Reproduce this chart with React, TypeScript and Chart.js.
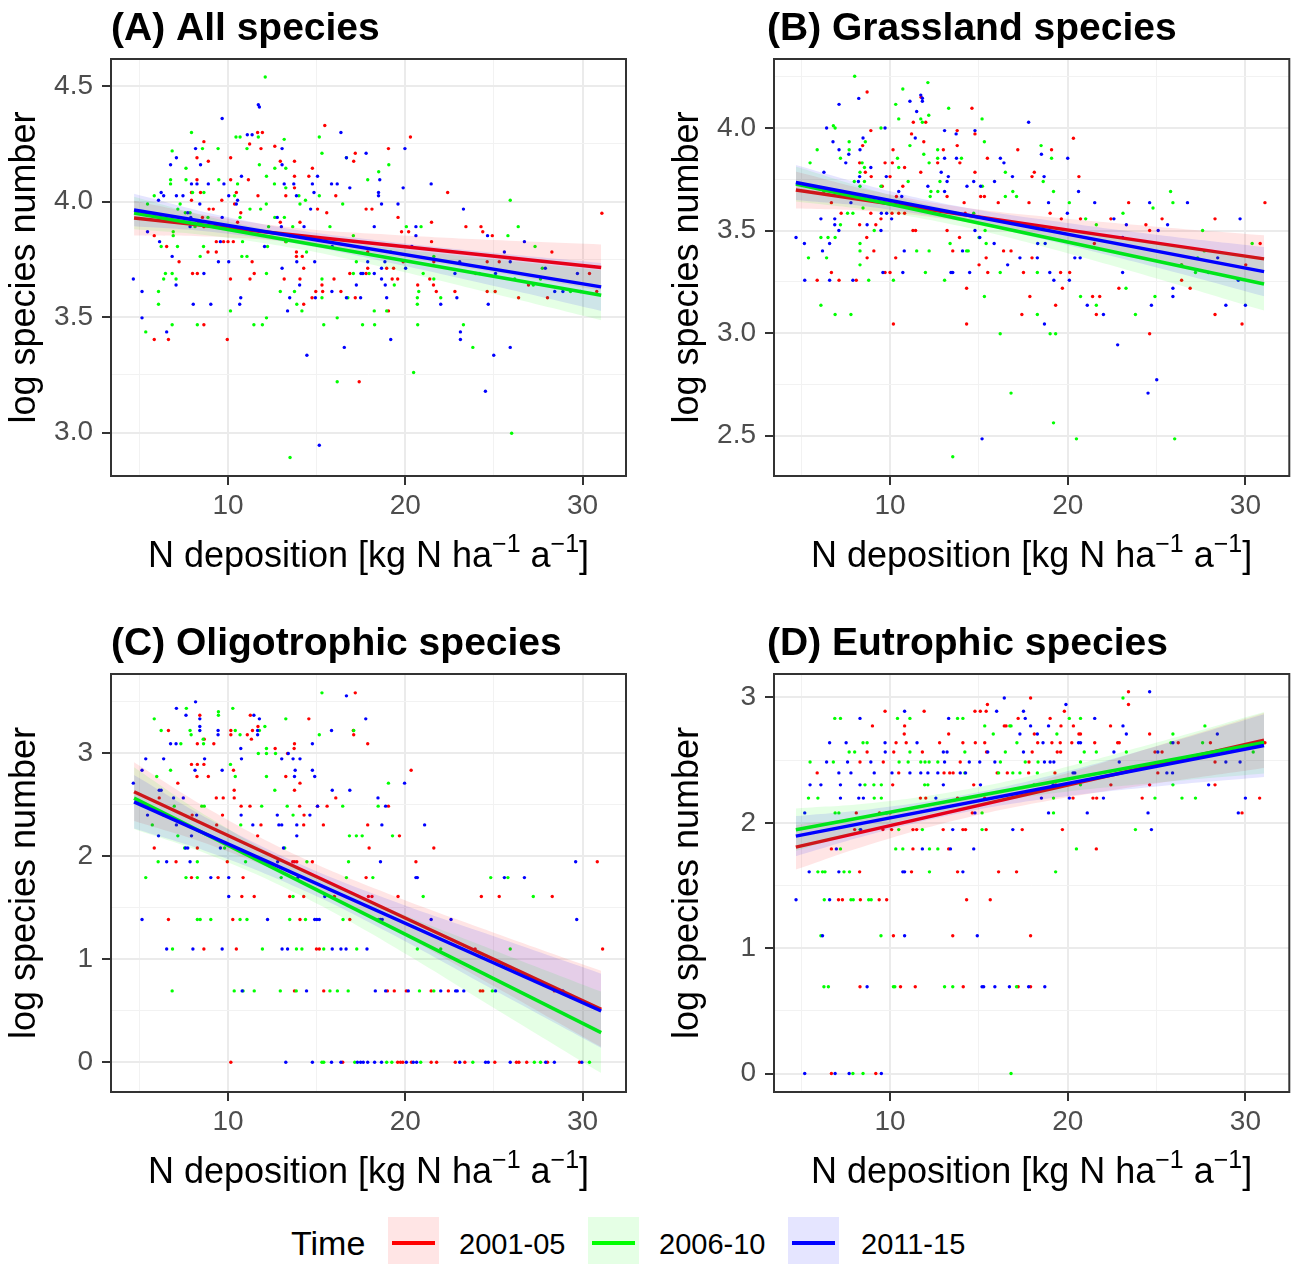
import React, { useEffect, useRef } from "react";
import { Chart, registerables } from "chart.js";

Chart.register(...registerables);

const FONT = '"Liberation Sans", Arial, Helvetica, sans-serif';

// ---------- labels ----------
const SERIES_LABELS = ["2001-05", "2006-10", "2011-15"];
const SERIES_COLORS = ["#FF0000", "#00FF00", "#0000FF"];
const RIBBON_COLORS = ["rgba(255,0,0,0.1)", "rgba(0,255,0,0.1)", "rgba(0,0,255,0.1)"];
const LEGEND_TITLE = "Time";
const PANEL_TITLES = ["(A) All species", "(B) Grassland species", "(C) Oligotrophic species", "(D) Eutrophic species"];
const Y_TITLE = "log species number";
const X_TITLE_PARTS: [string, boolean][] = [["N deposition [kg N ha", false], ["\u22121", true], [" a", false], ["\u22121", true], ["]", false]];
const X_TICKS = [5, 10, 15, 20, 25, 30];
const X_MAJOR = [10, 20, 30];
const AB_Y_TICKS_A = [3, 3.25, 3.5, 3.75, 4, 4.25, 4.5];
const AB_Y_MAJOR_A = [3, 3.5, 4, 4.5];
const Y_TICKS_B = [2.5, 2.75, 3, 3.25, 3.5, 3.75, 4, 4.25];
const Y_MAJOR_B = [2.5, 3, 3.5, 4];
const Y_TICKS_C = [0, 0.5, 1, 1.5, 2, 2.5, 3, 3.5];
const Y_TICKS_D = [0, 0.5, 1, 1.5, 2, 2.5, 3];
const Y_MAJOR_CD = [0, 1, 2, 3];

// ---------- fitted lines & confidence ribbons ----------
const FIT_X = [4.7, 31.05];
const BAND_X = [4.7, 9, 14, 19, 25, 31.05];

const aRedFit = [3.929, 3.715];
const aGreenFit = [3.951, 3.595];
const aBlueFit = [3.964, 3.631];
const aRedLow = [3.854, 3.849, 3.821, 3.768, 3.694, 3.615];
const aRedHigh = [4.004, 3.939, 3.885, 3.858, 3.834, 3.815];
const aGreenLow = [3.881, 3.853, 3.795, 3.712, 3.601, 3.487];
const aGreenHigh = [4.021, 3.933, 3.855, 3.802, 3.751, 3.703];
const aBlueLow = [3.894, 3.87, 3.816, 3.738, 3.635, 3.527];
const aBlueHigh = [4.034, 3.95, 3.876, 3.828, 3.779, 3.735];

const bRedFit = [3.698, 3.362];
const bGreenFit = [3.727, 3.24];
const bBlueFit = [3.734, 3.3];
const bRedLow = [3.608, 3.594, 3.545, 3.466, 3.359, 3.247];
const bRedHigh = [3.788, 3.694, 3.615, 3.566, 3.519, 3.477];
const bGreenLow = [3.642, 3.598, 3.521, 3.413, 3.267, 3.11];
const bGreenHigh = [3.812, 3.698, 3.591, 3.513, 3.437, 3.37];
const bBlueLow = [3.649, 3.614, 3.546, 3.449, 3.32, 3.18];
const bBlueHigh = [3.819, 3.714, 3.616, 3.549, 3.48, 3.42];

const cRedFit = [2.625, 0.515];
const cGreenFit = [2.563, 0.288];
const cBlueFit = [2.527, 0.498];
const cRedLow = [2.34, 2.108, 1.758, 1.318, 0.738, 0.148];
const cRedHigh = [2.91, 2.448, 1.998, 1.638, 1.258, 0.888];
const cGreenLow = [2.263, 2.009, 1.627, 1.156, 0.528, -0.104];
const cGreenHigh = [2.863, 2.369, 1.887, 1.496, 1.088, 0.686];
const cBlueLow = [2.267, 2.033, 1.688, 1.264, 0.702, 0.14];
const cBlueHigh = [2.787, 2.353, 1.928, 1.584, 1.222, 0.86];

const dRedFit = [1.806, 2.659];
const dGreenFit = [1.945, 2.64];
const dBlueFit = [1.894, 2.616];
const dRedLow = [1.628, 1.834, 2.031, 2.178, 2.313, 2.437];
const dRedHigh = [1.984, 2.054, 2.181, 2.358, 2.613, 2.877];
const dGreenLow = [1.775, 1.958, 2.12, 2.232, 2.32, 2.394];
const dGreenHigh = [2.115, 2.158, 2.26, 2.412, 2.64, 2.884];
const dBlueLow = [1.734, 1.911, 2.078, 2.195, 2.29, 2.365];
const dBlueHigh = [2.054, 2.111, 2.218, 2.375, 2.61, 2.865];

// ---------- observations: panel A (x, y) ----------
const aRed: number[][] = [
  [5.84,3.403],[6.64,3.403],[9.96,3.403],[8.64,3.467],[17.4,3.22],[19.05,3.527],[14.27,3.556],[14.74,3.584],[17.18,3.584],[26.39,3.584],[28.02,3.584],
  [14.95,3.611],[15.34,3.611],[16.37,3.611],[21.75,3.611],[22.8,3.611],[24.62,3.611],[25.07,3.611],[30.8,3.611],[15.3,3.639],[20.7,3.639],[21.59,3.639],[26.95,3.639],
  [10.14,3.665],[11.24,3.665],[13.17,3.665],[14.06,3.665],[15.98,3.665],[19.26,3.665],[19.57,3.665],[21.38,3.665],[8.0,3.689],[8.27,3.689],[11.48,3.689],[16.87,3.689],
  [17.79,3.689],[23.98,3.689],[30.39,3.689],[14.27,3.712],[17.88,3.712],[18.95,3.712],[19.34,3.712],[7.24,3.74],[11.36,3.74],[19.88,3.74],[21.61,3.74],[24.62,3.74],
  [25.3,3.74],[13.86,3.763],[14.19,3.763],[8.87,3.782],[9.34,3.782],[13.86,3.782],[28.27,3.782],[17.88,3.782],[6.54,3.806],[9.34,3.827],[9.75,3.827],[10.0,3.827],
  [10.3,3.827],[13.26,3.827],[21.48,3.827],[5.84,3.853],[13.48,3.853],[13.79,3.853],[24.91,3.853],[19.79,3.87],[20.19,3.87],[24.37,3.87],[8.64,3.892],[23.42,3.892],
  [24.27,3.892],[8.35,3.911],[10.54,3.911],[12.95,3.911],[14.06,3.911],[21.48,3.911],[8.56,3.932],[19.59,3.932],[31.09,3.95],[10.72,3.952],[15.57,3.952],[8.93,3.968],
  [9.17,3.968],[15.05,3.968],[17.79,3.968],[18.12,3.968],[10.37,3.99],[7.94,4.006],[9.65,4.006],[11.69,4.026],[13.26,4.026],[16.08,4.026],[7.94,4.04],[8.45,4.04],
  [10.47,4.04],[22.39,4.04],[13.75,4.06],[8.25,4.095],[10.15,4.095],[11.15,4.095],[13.75,4.11],[14.56,4.11],[14.76,4.145],[8.89,4.175],[12.95,4.175],[13.75,4.175],
  [17.09,4.175],[8.25,4.19],[10.15,4.19],[17.18,4.21],[11.86,4.23],[19.05,4.23],[11.22,4.25],[12.64,4.24],[8.64,4.26],[20.29,4.28],[11.67,4.3],[11.94,4.3],[15.46,4.33]
];
const aGreen: number[][] = [
  [12.1,4.54],[7.94,4.3],[10.45,4.28],[10.68,4.28],[11.71,4.28],[13.17,4.27],[15.15,4.28],[8.56,4.23],[9.44,4.23],[11.07,4.23],[6.85,4.22],[15.3,4.21],[16.68,4.19],
  [11.77,4.16],[19.07,4.16],[7.63,4.145],[12.64,4.145],[13.26,4.145],[18.5,4.13],[12.17,4.11],[6.76,4.095],[7.63,4.095],[9.48,4.095],[17.88,4.095],[6.76,4.077],
  [10.54,4.077],[12.62,4.077],[13.26,4.06],[8.0,4.04],[8.64,4.04],[5.84,4.026],[10.37,4.026],[14.0,4.026],[15.15,4.026],[25.92,4.006],[14.37,4.006],[5.46,3.99],
  [7.3,3.99],[12.16,3.99],[14.06,3.99],[16.47,3.99],[7.17,3.968],[11.24,3.968],[11.84,3.968],[7.59,3.952],[7.86,3.952],[8.87,3.932],[10.68,3.932],[12.64,3.932],
  [13.18,3.932],[8.43,3.911],[8.14,3.892],[12.29,3.892],[13.65,3.892],[15.75,3.892],[20.06,3.892],[20.89,3.892],[26.37,3.892],[6.91,3.87],[6.91,3.853],[17.07,3.853],
  [25.79,3.853],[10.82,3.827],[13.28,3.827],[6.23,3.806],[7.15,3.806],[8.62,3.806],[12.23,3.806],[27.32,3.806],[14.43,3.782],[19.18,3.782],[8.43,3.763],[10.78,3.763],
  [11.07,3.763],[21.61,3.763],[17.24,3.74],[27.73,3.712],[6.47,3.689],[6.85,3.689],[12.17,3.689],[17.07,3.689],[17.96,3.689],[21.01,3.689],[24.17,3.689],[6.37,3.665],
  [7.07,3.665],[15.3,3.665],[21.61,3.665],[26.17,3.665],[27.63,3.665],[19.38,3.639],[27.22,3.639],[6.08,3.611],[12.95,3.611],[13.75,3.611],[20.76,3.611],[29.32,3.611],
  [15.3,3.584],[16.76,3.584],[20.68,3.584],[22.0,3.584],[6.08,3.556],[13.88,3.556],[20.68,3.556],[10.14,3.527],[14.17,3.527],[18.25,3.527],[18.95,3.527],[12.17,3.497],
  [16.16,3.497],[6.85,3.467],[8.27,3.467],[11.46,3.467],[11.94,3.467],[15.4,3.467],[17.59,3.467],[18.27,3.467],[20.7,3.467],[23.28,3.467],[5.36,3.436],[23.81,3.369],
  [20.47,3.26],[16.16,3.22],[26.0,2.997],[13.5,2.892]
];
const aBlue: number[][] = [
  [11.71,4.42],[11.77,4.41],[9.67,4.36],[16.37,4.3],[11.09,4.29],[11.36,4.29],[8.17,4.23],[13.05,4.23],[19.98,4.23],[17.79,4.21],[7.09,4.19],[16.68,4.19],[13.05,4.16],
  [6.76,4.16],[8.45,4.16],[10.76,4.11],[15.05,4.11],[18.56,4.095],[7.94,4.077],[8.25,4.077],[8.89,4.077],[9.77,4.077],[13.17,4.077],[13.71,4.077],[14.76,4.077],
  [15.84,4.077],[16.16,4.077],[21.46,4.077],[16.87,4.06],[19.88,4.06],[6.23,4.04],[14.85,4.04],[18.49,4.04],[6.37,4.026],[7.09,4.026],[7.46,4.026],[10.04,4.026],
  [13.86,4.026],[18.49,4.026],[6.08,4.006],[10.54,4.006],[8.41,3.99],[10.47,3.99],[18.66,3.99],[19.59,3.99],[14.66,3.968],[23.28,3.968],[5.36,3.952],[7.73,3.952],
  [7.9,3.932],[9.67,3.932],[12.78,3.932],[7.86,3.892],[13.01,3.892],[14.29,3.892],[18.25,3.892],[20.6,3.892],[5.46,3.87],[20.6,3.853],[24.64,3.853],[6.14,3.827],
  [9.57,3.827],[26.72,3.827],[12.06,3.806],[15.88,3.806],[20.37,3.806],[25.59,3.782],[6.85,3.763],[9.46,3.74],[10.04,3.74],[13.88,3.74],[14.89,3.74],[17.88,3.74],
  [18.85,3.74],[23.07,3.74],[25.92,3.74],[13.05,3.712],[18.66,3.712],[20.02,3.712],[27.9,3.712],[8.64,3.689],[17.5,3.689],[17.61,3.689],[18.25,3.689],[22.8,3.689],
  [25.09,3.689],[29.71,3.689],[4.66,3.665],[18.66,3.665],[7.07,3.639],[14.04,3.639],[17.24,3.639],[18.87,3.639],[5.15,3.611],[15.86,3.611],[28.43,3.611],[28.89,3.611],
  [29.9,3.611],[10.72,3.584],[13.48,3.584],[14.93,3.584],[16.68,3.584],[17.48,3.584],[18.95,3.584],[22.91,3.584],[8.04,3.556],[9.03,3.556],[10.66,3.556],[22.0,3.556],
  [24.68,3.556],[13.36,3.527],[5.15,3.497],[6.54,3.436],[23.11,3.436],[19.18,3.403],[23.11,3.403],[16.56,3.369],[25.92,3.369],[14.45,3.335],[24.99,3.335],[24.52,3.179],
  [15.15,2.945]
];

// ---------- observations: panel B (x, y) ----------
const bRed: number[][] = [
  [8.71,4.175],[11.75,4.15],[14.61,4.096],[11.31,4.028],[12.01,4.028],[8.92,3.987],[13.78,3.987],[11.21,3.971],[14.78,3.971],[11.9,3.933],[20.32,3.95],[8.46,3.914],
  [13.78,3.914],[10.17,3.894],[13.0,3.894],[17.19,3.894],[19.09,3.894],[15.48,3.852],[8.29,3.83],[9.72,3.83],[10.13,3.83],[12.68,3.83],[13.93,3.83],[10.82,3.807],
  [8.61,3.784],[11.73,3.784],[14.78,3.784],[18.12,3.784],[8.94,3.763],[10.0,3.763],[17.99,3.763],[20.63,3.763],[9.56,3.716],[10.72,3.716],[10.36,3.666],[13.21,3.666],
  [15.1,3.666],[15.31,3.666],[6.7,3.636],[14.17,3.636],[16.09,3.636],[23.43,3.636],[31.1,3.636],[17.82,3.636],[7.25,3.584],[8.92,3.584],[10.11,3.584],[10.49,3.584],
  [10.82,3.584],[14.23,3.584],[19.01,3.584],[9.49,3.557],[19.64,3.557],[20.72,3.557],[22.43,3.557],[25.31,3.557],[28.29,3.557],[8.29,3.528],[9.2,3.528],[24.4,3.528],
  [11.29,3.5],[11.44,3.5],[13.21,3.5],[24.61,3.5],[8.69,3.466],[13.91,3.466],[21.5,3.437],[30.83,3.437],[9.09,3.401],[13.53,3.401],[16.39,3.401],[16.81,3.401],
  [8.71,3.367],[10.32,3.367],[15.41,3.367],[17.99,3.367],[15.01,3.333],[30.02,3.333],[26.41,3.333],[6.7,3.296],[9.72,3.296],[10.0,3.296],[15.5,3.296],[17.51,3.296],
  [19.6,3.296],[20.11,3.296],[5.9,3.258],[7.13,3.258],[8.1,3.258],[26.41,3.258],[14.31,3.219],[19.7,3.219],[22.88,3.219],[26.89,3.219],[17.87,3.179],[21.4,3.179],
  [21.8,3.179],[19.32,3.136],[17.42,3.091],[21.61,3.091],[28.29,3.091],[10.19,3.045],[14.31,3.045],[29.81,3.045],[24.61,2.997]
];
const bGreen: number[][] = [
  [8.01,4.252],[12.13,4.221],[10.72,4.19],[10.32,4.115],[13.3,4.096],[12.18,4.062],[10.49,4.044],[11.73,4.044],[15.18,4.044],[11.82,4.028],[6.81,4.011],[6.91,4.0],
  [9.49,4.0],[7.7,3.933],[8.61,3.933],[15.31,3.933],[11.12,3.914],[18.5,3.914],[5.9,3.894],[7.7,3.894],[12.68,3.894],[11.9,3.872],[7.21,3.852],[10.42,3.852],
  [12.68,3.852],[14.02,3.852],[19.09,3.852],[5.5,3.83],[8.43,3.83],[12.2,3.83],[10.49,3.807],[8.56,3.807],[8.31,3.784],[16.49,3.784],[7.99,3.739],[8.56,3.739],
  [11.02,3.739],[12.81,3.739],[18.62,3.739],[8.31,3.716],[9.49,3.716],[15.2,3.716],[6.28,3.69],[12.3,3.69],[12.69,3.69],[16.91,3.69],[19.2,3.69],[25.79,3.69],
  [12.26,3.666],[16.49,3.666],[17.12,3.666],[20.09,3.636],[25.92,3.636],[8.48,3.61],[24.8,3.61],[7.61,3.584],[7.91,3.584],[14.71,3.584],[23.11,3.584],[7.21,3.528],
  [21.01,3.557],[21.61,3.528],[9.11,3.5],[15.35,3.5],[27.59,3.5],[6.11,3.466],[6.51,3.466],[6.91,3.466],[15.01,3.466],[8.31,3.437],[13.38,3.437],[15.41,3.437],
  [30.38,3.437],[8.31,3.401],[11.5,3.401],[12.2,3.401],[14.31,3.401],[14.4,3.401],[27.69,3.401],[5.41,3.367],[6.43,3.367],[27.31,3.367],[8.31,3.333],[26.4,3.333],
  [11.99,3.296],[16.2,3.296],[18.29,3.296],[27.19,3.296],[8.8,3.258],[10.19,3.258],[13.07,3.258],[23.28,3.219],[15.31,3.179],[20.72,3.179],[24.91,3.179],[6.11,3.136],
  [21.61,3.136],[6.91,3.091],[7.8,3.091],[18.29,3.091],[23.81,3.091],[16.2,2.997],[19.01,2.997],[19.32,2.997],[16.81,2.708],[19.2,2.563],[20.49,2.485],[26.02,2.485],
  [13.53,2.398]
];
const bBlue: number[][] = [
  [11.73,4.16],[11.82,4.145],[8.24,4.144],[11.12,4.13],[11.82,4.13],[7.13,4.115],[11.5,4.08],[17.8,4.028],[6.43,4.0],[9.72,4.0],[13.07,3.987],[14.78,3.987],
  [13.72,3.971],[8.48,3.951],[11.42,3.951],[6.79,3.933],[7.13,3.894],[8.31,3.894],[7.68,3.872],[18.52,3.872],[13.07,3.852],[13.74,3.852],[16.21,3.852],[20.0,3.852],
  [7.51,3.83],[16.41,3.83],[8.92,3.807],[6.28,3.784],[12.88,3.784],[8.29,3.763],[9.79,3.763],[13.28,3.763],[16.89,3.763],[18.67,3.763],[8.22,3.739],[13.21,3.739],
  [14.71,3.739],[15.88,3.739],[12.13,3.716],[14.33,3.716],[15.1,3.716],[10.49,3.69],[13.07,3.69],[20.61,3.69],[10.66,3.666],[7.8,3.636],[18.92,3.636],[21.52,3.636],
  [24.61,3.636],[26.74,3.636],[9.51,3.584],[9.81,3.584],[19.98,3.584],[6.11,3.557],[6.89,3.557],[10.09,3.557],[22.6,3.557],[29.7,3.557],[6.89,3.528],[8.71,3.528],
  [23.3,3.528],[25.62,3.528],[7.12,3.5],[9.49,3.5],[14.78,3.5],[25.09,3.5],[4.71,3.466],[15.05,3.466],[23.09,3.466],[5.18,3.437],[6.6,3.437],[15.86,3.437],
  [18.31,3.437],[18.73,3.437],[6.2,3.401],[10.8,3.401],[14.08,3.401],[17.31,3.367],[18.29,3.367],[20.4,3.367],[20.7,3.367],[28.44,3.367],[16.62,3.333],[9.6,3.296],
  [10.72,3.296],[13.43,3.296],[13.53,3.296],[14.48,3.296],[18.99,3.296],[23.09,3.296],[27.93,3.296],[5.2,3.258],[6.6,3.258],[7.91,3.258],[19.22,3.258],[20.09,3.258],
  [29.6,3.258],[25.92,3.219],[25.92,3.179],[21.1,3.136],[24.71,3.136],[28.9,3.136],[30.0,3.136],[22.01,3.091],[18.69,3.045],[22.81,2.943],[25.01,2.773],[24.52,2.708],
  [15.18,2.485]
];

// ---------- observations: panels C and D, grouped by y level: [y, x values] ----------
const cRed: [number, number[]][] = [
  [0, [10.16, 16.47, 19.57, 19.73, 19.86, 20.35, 21.46, 21.77, 22.82, 23.36, 25.05, 26.27, 26.41, 26.85, 28.02, 29.83]],
  [0.693, [13.75, 15.4, 18.99, 19.38, 20.06, 21.46, 22.43, 24.23, 24.37, 28.41]],
  [1.099, [8.64, 10.47, 14.99, 15.15, 23.94, 31.13]],
  [1.386, [6.64, 10.27, 14.06, 16.87]],
  [1.609, [10.78, 11.48, 13.48, 14.27, 16.0, 17.92, 18.12, 19.59, 24.29, 25.3, 28.29]],
  [1.792, [7.94, 9.44, 10.85, 17.79]],
  [1.946, [7.07, 9.96, 13.65, 13.75, 13.88, 14.76, 20.6, 30.83]],
  [2.079, [5.84, 8.27, 17.96, 21.61]],
  [2.197, [11.67, 19.67]],
  [2.303, [9.36, 11.86, 14.27, 15.38, 17.88]],
  [2.398, [7.98, 9.69, 14.29]],
  [2.485, [10.74, 11.24, 14.04, 15.05, 15.59, 19.05]],
  [2.565, [6.12, 9.34, 9.73, 10.35, 16.08]],
  [2.639, [10.35, 13.75]],
  [2.708, [7.17, 14.06]],
  [2.773, [8.25, 8.89, 13.26]],
  [2.833, [10.31, 20.33]],
  [2.89, [7.94, 8.27, 8.64]],
  [2.996, [13.36]],
  [3.045, [12.66, 13.73]],
  [3.091, [8.27, 9.2, 13.75, 17.88]],
  [3.135, [8.66, 11.32]],
  [3.178, [10.16, 11.09, 17.09]],
  [3.219, [6.64, 10.16, 11.38, 17.07]],
  [3.258, [11.69]],
  [3.332, [14.56]],
  [3.367, [8.41, 11.26]],
  [3.584, [17.18]]
];
const cGreen: [number, number[]][] = [
  [0, [15.3, 15.4, 17.15, 18.95, 19.24, 20.87, 23.81, 27.28, 27.63, 30.39]],
  [0.693, [6.85, 10.35, 10.85, 11.48, 12.95, 13.85, 15.75, 16.17, 16.78, 20.8, 21.61, 24.91]],
  [1.099, [6.87, 11.94, 13.86, 14.17, 15.4, 17.26, 20.68, 22.0, 25.92]],
  [1.386, [8.27, 8.43, 9.03, 10.68, 11.07, 13.48, 14.37, 16.49, 18.49]],
  [1.609, [13.67, 21.01, 27.22]],
  [1.792, [5.36, 7.63, 8.27, 13.0, 16.68, 18.17, 24.82, 25.79]],
  [1.946, [6.06, 8.27, 10.99, 12.19, 14.45, 16.8]],
  [2.079, [7.55, 9.81, 13.2]],
  [2.197, [7.17, 16.85, 17.24, 17.57, 19.28]],
  [2.303, [5.73, 10.72]],
  [2.398, [6.37, 13.67]],
  [2.485, [6.97, 8.52, 8.66, 11.9, 13.34, 16.47, 18.47]],
  [2.639, [12.64]],
  [2.708, [19.05]],
  [2.773, [5.98, 10.41, 12.17]],
  [2.833, [6.76]],
  [2.89, [10.14]],
  [2.996, [11.71, 12.17, 12.68]],
  [3.045, [12.17]],
  [3.091, [7.34, 8.62]],
  [3.135, [8.6]],
  [3.178, [7.92, 10.68, 15.15]],
  [3.219, [6.23, 7.86, 10.41, 11.77, 17.09]],
  [3.258, [12.08]],
  [3.332, [5.84, 13.26]],
  [3.367, [9.46]],
  [3.401, [9.46]],
  [3.434, [7.65, 10.27]],
  [3.584, [15.3]]
];
const cBlue: [number, number[]][] = [
  [0, [13.26, 14.76, 15.84, 16.37, 17.3, 17.48, 17.63, 17.88, 18.27, 18.66, 20.06, 20.45, 20.64, 23.07, 24.53, 24.68, 25.92, 27.92, 28.41, 29.96]],
  [0.693, [10.8, 14.43, 18.31, 18.89, 20.17, 22.0, 22.84, 22.93, 23.3, 25.09, 28.89]],
  [1.099, [6.54, 8.02, 9.67, 13.05, 13.36, 15.88, 16.37, 16.66, 17.84]],
  [1.386, [5.15, 12.23, 14.89, 15.01, 15.15, 18.6, 18.7, 21.46, 22.58, 29.67]],
  [1.609, [10.04, 15.46]],
  [1.792, [9.03, 10.04, 13.94, 20.6, 20.68, 25.59, 26.72]],
  [1.946, [6.54, 7.86, 12.8, 18.6, 29.61]],
  [2.079, [7.61, 7.73, 9.57, 13.13]],
  [2.197, [6.08, 7.94, 13.88]],
  [2.303, [7.09, 11.4, 12.87, 13.03, 13.88, 18.68, 21.09]],
  [2.398, [5.46, 8.23, 10.74, 12.78, 14.62]],
  [2.485, [15.05, 18.89]],
  [2.565, [6.93, 7.48, 18.46]],
  [2.639, [6.12, 6.23, 15.88, 16.87]],
  [2.708, [4.66, 19.96]],
  [2.773, [13.75, 14.89]],
  [2.833, [5.15, 8.14, 9.67, 13.79, 14.76]],
  [2.944, [5.36, 6.37, 8.68, 10.76, 13.03, 13.67, 14.06]],
  [2.996, [13.4]],
  [3.045, [10.72]],
  [3.091, [6.76, 7.07, 14.76]],
  [3.178, [9.44, 11.67]],
  [3.219, [8.41, 9.44, 11.67, 15.84]],
  [3.258, [8.41]],
  [3.332, [8.41, 11.77, 17.77]],
  [3.367, [7.63, 11.46]],
  [3.434, [7.09]],
  [3.497, [8.17]],
  [3.555, [16.68]]
];
const dRed: [number, number[]][] = [
  [0, [6.7, 9.2]],
  [0.693, [8.31, 10.59, 11.42, 14.12, 17.21, 17.91]],
  [1.099, [10.19, 13.53, 17.91]],
  [1.386, [7.1, 7.32, 8.33, 9.39, 9.81, 14.31, 15.64]],
  [1.609, [8.29, 11.21, 13.8, 16.11, 17.12]],
  [1.792, [6.7, 11.29, 13.3, 21.61]],
  [1.946, [8.01, 9.6, 10.09, 11.29, 11.5, 12.99, 14.1, 14.25, 15.41, 17.44, 19.7]],
  [2.079, [8.1, 9.41, 10.0, 14.63, 29.81]],
  [2.197, [11.71, 12.01, 13.8, 15.33, 20.3, 21.42, 21.63, 24.19, 30.8]],
  [2.303, [10.15, 14.71, 19.33, 22.43, 24.61, 28.29]],
  [2.398, [5.9, 10.49, 13.04, 13.36, 13.55, 16.03, 16.6, 17.8, 19.28, 25.07]],
  [2.485, [8.31, 9.62, 13.95, 17.82, 28.29]],
  [2.565, [8.71, 10.21, 11.82, 15.43, 18.0, 19.41, 19.6, 24.91, 25.31]],
  [2.639, [10.34, 10.91, 12.79, 14.1, 14.8, 15.33, 18.31, 19.11, 19.58, 20.23, 21.52, 22.81, 22.9, 26.22, 28.03, 31.1]],
  [2.708, [10.8, 13.3, 18.12, 20.63, 20.72, 24.61]],
  [2.773, [9.01, 10.82, 16.43, 16.53, 19.62, 20.32, 22.41]],
  [2.833, [17.21, 19.01]],
  [2.89, [9.72, 11.92, 14.78, 15.08, 15.41, 19.81]],
  [2.944, [15.48, 23.42]],
  [2.996, [17.91]],
  [3.045, [23.42]]
];
const dGreen: [number, number[]][] = [
  [0, [7.91, 8.48, 16.81]],
  [0.693, [6.28, 6.53, 10.19, 10.27, 13.07, 13.53, 17.12]],
  [1.099, [6.11, 9.49]],
  [1.386, [6.3, 7.8, 7.93, 8.8, 8.94]],
  [1.609, [5.94, 6.2, 6.34, 7.41, 7.72, 12.22, 19.32]],
  [1.792, [7.21, 10.32, 10.72, 12.22, 12.69, 20.49]],
  [1.946, [8.31, 10.49, 11.82, 15.18, 23.81]],
  [2.079, [6.91, 7.12, 15.18, 19.2]],
  [2.197, [5.41, 5.94, 9.11, 9.51, 19.2, 24.91, 26.43, 27.19]],
  [2.303, [8.59, 9.09, 9.51, 11.95, 12.13, 18.1, 20.72, 25.92]],
  [2.398, [14.21, 16.11, 16.91, 17.31, 18.29]],
  [2.485, [5.5, 6.81, 10.51, 11.02, 11.73, 11.97, 12.2, 12.69, 16.21, 17.61, 18.33, 20.72]],
  [2.565, [7.7, 8.01, 11.12, 14.21, 16.49, 20.93, 21.61, 23.3, 30.44]],
  [2.639, [8.48, 8.71, 17.14, 25.81, 27.59]],
  [2.708, [15.81, 19.39, 25.92]],
  [2.773, [15.33, 16.74, 16.81, 27.72]],
  [2.833, [6.89, 7.21, 10.42, 11.12, 13.8, 14.1, 20.09, 20.72]],
  [2.996, [23.11]]
];
const dBlue: [number, number[]][] = [
  [0, [5.2, 6.91, 7.7, 9.51]],
  [0.693, [8.71, 15.18, 15.27, 15.9, 16.72, 17.8, 18.71]],
  [1.099, [6.2, 10.82, 14.91]],
  [1.386, [4.71, 6.6]],
  [1.609, [5.45, 7.12, 10.72, 10.82, 14.1]],
  [1.792, [6.98, 11.82, 13.4, 14.71]],
  [1.946, [8.35, 13.53, 16.91, 24.71]],
  [2.079, [5.2, 9.81, 14.78, 18.92, 21.1, 24.52, 29.6]],
  [2.197, [7.21, 8.24, 8.5, 12.58, 18.52, 20.09, 22.01, 30.0]],
  [2.303, [5.5, 6.11, 7.21, 8.31, 13.0, 15.09, 19.18, 27.93]],
  [2.398, [7.12, 7.8, 9.11, 10.11, 11.12, 11.73, 12.13, 12.69, 13.95, 14.25, 20.3, 20.4, 25.58, 25.9]],
  [2.485, [6.43, 7.61, 8.92, 13.07, 14.46, 15.05, 15.9, 18.69, 19.01, 19.22, 22.9, 28.9, 29.7]],
  [2.565, [9.73, 13.0, 13.21, 15.5, 17.51, 22.6, 25.07]],
  [2.639, [6.6, 7.53, 9.72, 11.52, 18.61, 20.61, 20.72, 25.92]],
  [2.708, [17.31, 18.29, 23.3, 28.42]],
  [2.773, [17.91, 18.92, 23.11]],
  [2.833, [8.31, 13.3, 17.61, 21.52]],
  [2.89, [10.82, 16.0, 17.51]],
  [2.944, [19.9]],
  [2.996, [16.43]],
  [3.045, [24.61]]
];

// ---------- helpers ----------
type Pt = { x: number; y: number };
const fromPairs = (arr: number[][]): Pt[] => arr.map(([x, y]) => ({ x, y }));
const fromLevels = (groups: [number, number[]][]): Pt[] => groups.flatMap(([y, xs]) => xs.map((x) => ({ x, y })));
const zipXY = (xs: number[], ys: number[]): Pt[] => xs.map((x, i) => ({ x, y: ys[i] }));

type Series = { pts: Pt[]; fit: number[]; low: number[]; high: number[] };
type PanelCfg = {
  title: string;
  canvas: { l: number; t: number; w: number; h: number };
  plot: { l: number; t: number; r: number; b: number };
  titleX: number;
  xr: [number, number];
  yr: [number, number];
  yTicks: number[];
  yMajor: number[];
  dec: number;
  series: Series[];
};

const PANELS: PanelCfg[] = [
  {
    title: PANEL_TITLES[0], canvas: { l: 0, t: 0, w: 645, h: 600 }, plot: { l: 111, t: 59, r: 626, b: 476 }, titleX: 111,
    xr: [3.4, 32.45], yr: [2.812, 4.618], yTicks: AB_Y_TICKS_A, yMajor: AB_Y_MAJOR_A, dec: 1,
    series: [
      { pts: fromPairs(aRed), fit: aRedFit, low: aRedLow, high: aRedHigh },
      { pts: fromPairs(aGreen), fit: aGreenFit, low: aGreenLow, high: aGreenHigh },
      { pts: fromPairs(aBlue), fit: aBlueFit, low: aBlueLow, high: aBlueHigh },
    ],
  },
  {
    title: PANEL_TITLES[1], canvas: { l: 645, t: 0, w: 646, h: 600 }, plot: { l: 774, t: 59, r: 1290, b: 476 }, titleX: 767,
    xr: [3.47, 32.47], yr: [2.304, 4.336], yTicks: Y_TICKS_B, yMajor: Y_MAJOR_B, dec: 1,
    series: [
      { pts: fromPairs(bRed), fit: bRedFit, low: bRedLow, high: bRedHigh },
      { pts: fromPairs(bGreen), fit: bGreenFit, low: bGreenLow, high: bGreenHigh },
      { pts: fromPairs(bBlue), fit: bBlueFit, low: bBlueLow, high: bBlueHigh },
    ],
  },
  {
    title: PANEL_TITLES[2], canvas: { l: 0, t: 615, w: 645, h: 590 }, plot: { l: 111, t: 674, r: 626, b: 1092 }, titleX: 111,
    xr: [3.4, 32.45], yr: [-0.288, 3.767], yTicks: Y_TICKS_C, yMajor: Y_MAJOR_CD, dec: 0,
    series: [
      { pts: fromLevels(cRed), fit: cRedFit, low: cRedLow, high: cRedHigh },
      { pts: fromLevels(cGreen), fit: cGreenFit, low: cGreenLow, high: cGreenHigh },
      { pts: fromLevels(cBlue), fit: cBlueFit, low: cBlueLow, high: cBlueHigh },
    ],
  },
  {
    title: PANEL_TITLES[3], canvas: { l: 645, t: 615, w: 646, h: 590 }, plot: { l: 774, t: 674, r: 1290, b: 1092 }, titleX: 767,
    xr: [3.47, 32.47], yr: [-0.147, 3.187], yTicks: Y_TICKS_D, yMajor: Y_MAJOR_CD, dec: 0,
    series: [
      { pts: fromLevels(dRed), fit: dRedFit, low: dRedLow, high: dRedHigh },
      { pts: fromLevels(dGreen), fit: dGreenFit, low: dGreenLow, high: dGreenHigh },
      { pts: fromLevels(dBlue), fit: dBlueFit, low: dBlueLow, high: dBlueHigh },
    ],
  },
];

const MAJOR_GRID = "#EBEBEB";
const MINOR_GRID = "#F2F2F2";
const AXIS_DARK = "#333333";
const TICK_TEXT = "#4D4D4D";
const Y_TITLE_SIZE = 36;

function Panel({ cfg }: { cfg: PanelCfg }) {
  const ref = useRef<HTMLCanvasElement | null>(null);

  useEffect(() => {
    const canvas = ref.current;
    if (!canvas) return;
    const { canvas: cv, plot } = cfg;

    const datasets: any[] = [];
    cfg.series.forEach((s, i) => {
      datasets.push({
        type: "scatter",
        label: SERIES_LABELS[i],
        data: s.pts,
        backgroundColor: SERIES_COLORS[i],
        borderWidth: 0,
        pointRadius: 1.7,
        pointHoverRadius: 1.7,
        order: 200 - i,
      });
    });
    cfg.series.forEach((s, i) => {
      datasets.push({
        type: "line",
        label: SERIES_LABELS[i] + " low",
        data: zipXY(BAND_X, s.low),
        borderWidth: 0,
        borderColor: "rgba(0,0,0,0)",
        pointRadius: 0,
        showLine: true,
        fill: false,
        tension: 0.4,
        order: 100 - i * 20,
      });
      datasets.push({
        type: "line",
        label: SERIES_LABELS[i] + " high",
        data: zipXY(BAND_X, s.high),
        borderWidth: 0,
        borderColor: "rgba(0,0,0,0)",
        backgroundColor: RIBBON_COLORS[i],
        pointRadius: 0,
        showLine: true,
        fill: "-1",
        tension: 0.4,
        order: 100 - i * 20,
      });
      datasets.push({
        type: "line",
        label: SERIES_LABELS[i],
        data: zipXY(FIT_X, s.fit),
        borderColor: SERIES_COLORS[i],
        borderWidth: 3.5,
        pointRadius: 0,
        showLine: true,
        fill: false,
        order: 90 - i * 20,
      });
    });

    const isIn = (arr: number[], v: any) => arr.some((m) => Math.abs(m - v) < 1e-9);

    const decor = {
      id: "decor",
      afterDraw(chart: any) {
        const { ctx, chartArea: a } = chart;
        ctx.save();
        ctx.strokeStyle = AXIS_DARK;
        ctx.lineWidth = 2;
        ctx.strokeRect(a.left, a.top, a.right - a.left, a.bottom - a.top);
        ctx.fillStyle = "#000";
        ctx.textAlign = "left";
        ctx.textBaseline = "alphabetic";
        ctx.font = `bold 39px ${FONT}`;
        ctx.fillText(cfg.title, cfg.titleX - cv.l, a.top - 19);
        const mainFont = `36px ${FONT}`;
        const supFont = `25px ${FONT}`;
        let total = 0;
        X_TITLE_PARTS.forEach(([t, sup]) => {
          ctx.font = sup ? supFont : mainFont;
          total += ctx.measureText(t).width;
        });
        let x = (a.left + a.right) / 2 - total / 2;
        const base = a.bottom + 91;
        X_TITLE_PARTS.forEach(([t, sup]) => {
          ctx.font = sup ? supFont : mainFont;
          ctx.fillText(t, x, sup ? base - 15 : base);
          x += ctx.measureText(t).width;
        });
        ctx.restore();
      },
    };

    const chart = new Chart(canvas, {
      type: "scatter",
      data: { datasets },
      options: {
        animation: false,
        responsive: false,
        devicePixelRatio: 1,
        events: [],
        layout: { padding: { top: plot.t - cv.t, right: cv.l + cv.w - plot.r, bottom: 0, left: 0 } },
        plugins: { legend: { display: false }, tooltip: { enabled: false }, title: { display: false } },
        scales: {
          x: {
            type: "linear",
            min: cfg.xr[0],
            max: cfg.xr[1],
            afterBuildTicks: (s: any) => { s.ticks = X_TICKS.map((v) => ({ value: v })); },
            afterFit: (s: any) => { s.height = cv.t + cv.h - plot.b; },
            border: { display: false },
            grid: {
              color: (c: any) => (isIn(X_MAJOR, c.tick?.value) ? MAJOR_GRID : MINOR_GRID),
              lineWidth: (c: any) => (isIn(X_MAJOR, c.tick?.value) ? 2 : 1),
              tickColor: (c: any) => (isIn(X_MAJOR, c.tick?.value) ? AXIS_DARK : "rgba(0,0,0,0)"),
              tickLength: 9,
              tickWidth: 2,
              drawTicks: true,
            },
            ticks: {
              autoSkip: false,
              maxRotation: 0,
              padding: 4,
              color: TICK_TEXT,
              font: { family: FONT, size: 28 },
              callback: (v: any) => (isIn(X_MAJOR, v) ? String(v) : ""),
            },
          },
          y: {
            type: "linear",
            min: cfg.yr[0],
            max: cfg.yr[1],
            afterBuildTicks: (s: any) => { s.ticks = cfg.yTicks.map((v) => ({ value: v })); },
            afterFit: (s: any) => { s.width = plot.l - cv.l; },
            border: { display: false },
            grid: {
              color: (c: any) => (isIn(cfg.yMajor, c.tick?.value) ? MAJOR_GRID : MINOR_GRID),
              lineWidth: (c: any) => (isIn(cfg.yMajor, c.tick?.value) ? 2 : 1),
              tickColor: (c: any) => (isIn(cfg.yMajor, c.tick?.value) ? AXIS_DARK : "rgba(0,0,0,0)"),
              tickLength: 9,
              tickWidth: 2,
              drawTicks: true,
            },
            ticks: {
              autoSkip: false,
              padding: 9,
              color: TICK_TEXT,
              font: { family: FONT, size: 28 },
              callback: (v: any) => (isIn(cfg.yMajor, v) ? Number(v).toFixed(cfg.dec) : ""),
            },
            title: {
              display: true,
              text: Y_TITLE,
              color: "#000",
              font: { family: FONT, size: Y_TITLE_SIZE },
              padding: { top: Math.max(0, plot.l - 86 - cv.l - Y_TITLE_SIZE * 0.6), bottom: 0 },
            },
          },
        },
      },
      plugins: [decor],
    } as any);

    return () => chart.destroy();
  }, [cfg]);

  return (
    <canvas
      ref={ref}
      width={cfg.canvas.w}
      height={cfg.canvas.h}
      style={{ position: "absolute", left: cfg.canvas.l, top: cfg.canvas.t, width: cfg.canvas.w, height: cfg.canvas.h }}
    />
  );
}

const LEGEND_KEYS_X = [388, 588, 788];
const LEGEND_LABELS_X = [459, 659, 861];

export default function App() {
  return (
    <div style={{ position: "absolute", left: 0, top: 0, width: 1291, height: 1264, background: "#fff", overflow: "hidden", fontFamily: FONT }}>
      {PANELS.map((p, i) => (
        <Panel key={i} cfg={p} />
      ))}
      <div style={{ position: "absolute", left: 291, top: 1222, height: 42, lineHeight: "42px", fontSize: 34, color: "#000" }}>{LEGEND_TITLE}</div>
      {SERIES_LABELS.map((lab, i) => (
        <React.Fragment key={lab}>
          <div style={{ position: "absolute", left: LEGEND_KEYS_X[i], top: 1217, width: 51, height: 47, background: RIBBON_COLORS[i] }}>
            <div style={{ position: "absolute", left: 4, right: 4, top: 24, height: 4, background: SERIES_COLORS[i] }} />
          </div>
          <div style={{ position: "absolute", left: LEGEND_LABELS_X[i], top: 1224, height: 40, lineHeight: "40px", fontSize: 29, color: "#000" }}>{lab}</div>
        </React.Fragment>
      ))}
    </div>
  );
}
